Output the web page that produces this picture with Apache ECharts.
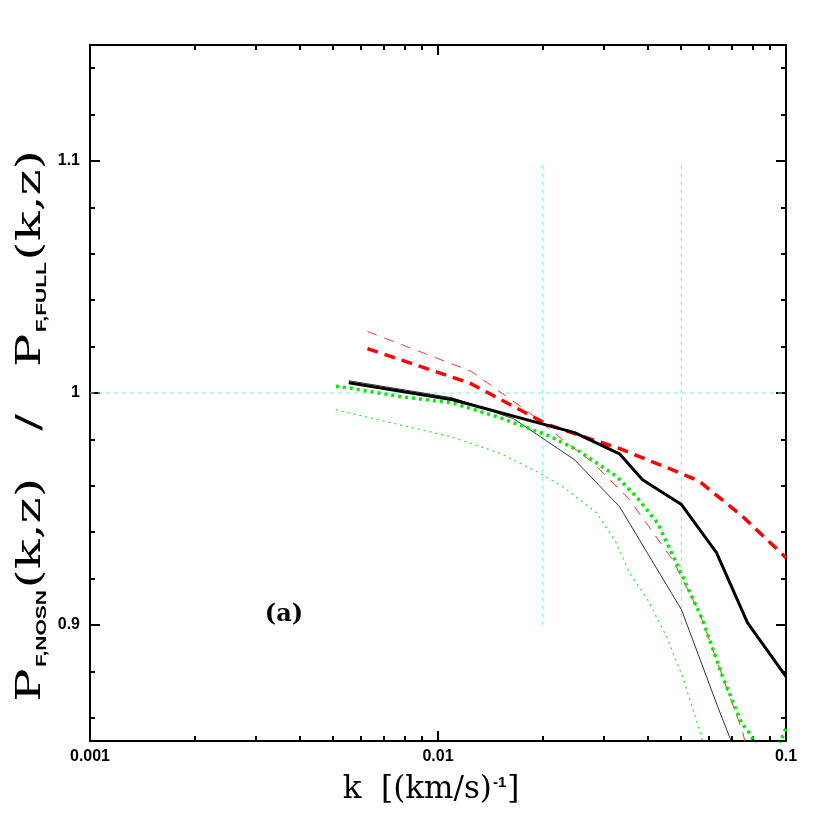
<!DOCTYPE html>
<html><head><meta charset="utf-8">
<script src="https://cdn.jsdelivr.net/npm/echarts@6/dist/echarts.min.js"></script>
<style>html,body{margin:0;padding:0;background:#fff}#c{width:830px;height:830px}</style>
</head><body><div id="c"></div>
<script>
// ---- data ----
const thickBlackK = [0.00554, 0.01102, 0.02469, 0.03324, 0.0387, 0.05008, 0.06313, 0.07748, 0.1];
const thickBlackV = [1.0044, 0.9971, 0.9829, 0.9738, 0.9626, 0.9519, 0.9312, 0.9010, 0.8777];

const thinBlackK = [0.00554, 0.01102, 0.0165, 0.02469, 0.03324, 0.05008, 0.06365, 0.0775];
const thinBlackV = [1.0053, 0.9979, 0.9889, 0.9712, 0.9510, 0.9066, 0.8648, 0.832];

const thickRedK = [0.00627, 0.01233, 0.0207, 0.0333, 0.0501, 0.0564, 0.0750, 0.1];
const thickRedV = [1.0191, 1.0043, 0.9863, 0.9760, 0.9653, 0.9619, 0.9468, 0.9290];

const thinRedK = [0.00627, 0.01247, 0.01834, 0.02281, 0.02763, 0.03552, 0.0472, 0.0564, 0.0750, 0.085];
const thinRedV = [1.0265, 1.0093, 0.9914, 0.9799, 0.9705, 0.9540, 0.9281, 0.9053, 0.8541, 0.82];

const thickGreenK = [0.00509, 0.00554, 0.00776, 0.01102, 0.01504, 0.02078, 0.02501, 0.03258, 0.0372, 0.04274, 0.04718, 0.05042, 0.05754, 0.06568, 0.07447, 0.07852, 0.0895, 0.1];
const thickGreenV = [1.0029, 1.0022, 0.9985, 0.9957, 0.9894, 0.9816, 0.9756, 0.9641, 0.9552, 0.944, 0.9303, 0.921, 0.9023, 0.8778, 0.8578, 0.8534, 0.838, 0.8556];

const thinGreenK = [0.00509, 0.00776, 0.0108, 0.01504, 0.01959, 0.02281, 0.02856, 0.03258, 0.03552, 0.04, 0.04535, 0.05042, 0.05715, 0.064];
const thinGreenV = [0.9928, 0.9863, 0.9813, 0.9741, 0.9655, 0.9597, 0.9483, 0.9353, 0.9224, 0.911, 0.8951, 0.8778, 0.8519, 0.82];

// reference (guide) lines
const refHK = [0.001, 0.1];
const refHV = [1.0, 1.0];
const refV1K = [0.02, 0.02];
const refV2K = [0.05, 0.05];
const refVV = [0.9, 1.1];

const xMajorTicks = [0.001, 0.01, 0.1];
const xTickLabels = ['0.001', '0.01', '0.1'];
const xMinorTicks = [0.002,0.003,0.004,0.005,0.006,0.007,0.008,0.009,0.02,0.03,0.04,0.05,0.06,0.07,0.08,0.09];
const yMajorTicks = [0.9, 1.0, 1.1];
const yTickLabels = ['0.9', '1', '1.1'];
const yMinorTicks = [0.86,0.88,0.92,0.94,0.96,0.98,1.02,1.04,1.06,1.08,1.12,1.14];

const xMin = 0.001, xMax = 0.1, yMin = 0.85, yMax = 1.15;

// ---- chart ----
const zip = (a, b) => a.map((v, i) => [v, b[i]]);
const chart = echarts.init(document.getElementById('c'), null, {renderer: 'canvas'});

const labelFont = {fontFamily: 'Liberation Sans', fontWeight: 'bold', fontSize: 16, color: '#000'};

function xAxis(pos, ticks, len, showLine, labels) {
  return {
    type: 'log', logBase: 10, min: xMin, max: xMax, position: pos,
    splitLine: {show: false}, minorTick: {show: false},
    axisLine: {show: showLine, onZero: false, lineStyle: {color: '#000', width: 2}},
    axisTick: {show: true, inside: true, length: len, customValues: ticks, lineStyle: {color: '#000', width: 2}},
    axisLabel: labels ? Object.assign({show: true, margin: 8, customValues: xMajorTicks,
      formatter: v => xTickLabels[xMajorTicks.findIndex(t => Math.abs(Math.log10(t) - Math.log10(v)) < 1e-6)]}, labelFont)
      : {show: false}
  };
}
function yAxis(pos, ticks, len, showLine, labels) {
  return {
    type: 'value', min: yMin, max: yMax, position: pos,
    splitLine: {show: false}, minorTick: {show: false},
    axisLine: {show: showLine, onZero: false, lineStyle: {color: '#000', width: 2}},
    axisTick: {show: true, inside: true, length: len, customValues: ticks, lineStyle: {color: '#000', width: 2}},
    axisLabel: labels ? Object.assign({show: true, margin: 10, customValues: yMajorTicks,
      formatter: v => yTickLabels[yMajorTicks.findIndex(t => Math.abs(t - v) < 1e-6)]}, labelFont)
      : {show: false}
  };
}

function lineSeries(name, k, v, color, width, dash, z) {
  return {
    name, type: 'line', data: zip(k, v), xAxisIndex: 0, yAxisIndex: 0,
    showSymbol: false, symbol: 'none', smooth: false, clip: true, z,
    lineStyle: {color, width, type: dash, cap: 'butt', join: 'round'},
    emphasis: {disabled: true}, silent: true
  };
}

const refColor = '#66f2f2';

const option = {
  animation: false,
  backgroundColor: '#fff',
  grid: {left: 90, right: 44, top: 45, bottom: 89, containLabel: false},
  xAxis: [
    xAxis('bottom', xMajorTicks, 10, true, true),
    xAxis('bottom', xMinorTicks, 5, false, false),
    xAxis('top', xMajorTicks, 10, true, false),
    xAxis('top', xMinorTicks, 5, false, false)
  ],
  yAxis: [
    yAxis('left', yMajorTicks, 10, true, true),
    yAxis('left', yMinorTicks, 5, false, false),
    yAxis('right', yMajorTicks, 10, true, false),
    yAxis('right', yMinorTicks, 5, false, false)
  ],
  series: [
    lineSeries('refH', refHK, refHV, refColor, 1, [4, 4], 1),
    lineSeries('refV1', refV1K, refVV, refColor, 1, [4, 4], 1),
    lineSeries('refV2', refV2K, refVV, refColor, 1, [4, 4], 1),
    lineSeries('thinGreen', thinGreenK, thinGreenV, '#22ee22', 1.2, [2, 4], 3),
    lineSeries('thinBlack', thinBlackK, thinBlackV, '#333333', 1, 'solid', 4),
    lineSeries('thinRed', thinRedK, thinRedV, '#ff3333', 1, [10, 8], 5),
    lineSeries('thickGreen', thickGreenK, thickGreenV, '#00ee00', 3.5, [3, 4], 6),
    lineSeries('thickRed', thickRedK, thickRedV, '#ff0000', 3.5, [11, 7], 7),
    lineSeries('thickBlack', thickBlackK, thickBlackV, '#000000', 3, 'solid', 8)
  ],
  graphic: [
    {
      type: 'text', x: 431, y: 790, z: 100,
      style: {
        text: '{m|k  [(km/s)}{s|-1}{m|]}',
        align: 'center', verticalAlign: 'middle',
        rich: {
          m: {fontFamily: 'DejaVu Serif', fontSize: 31, color: '#000', lineHeight: 40, verticalAlign: 'middle'},
          s: {fontFamily: 'Liberation Sans', fontWeight: 'bold', fontSize: 15, color: '#000', lineHeight: 40, verticalAlign: 'top', padding: [5, 1, 0, 1]}
        }
      }
    },
    {
      type: 'text', x: 31, y: 426, rotation: Math.PI / 2, scaleX: 1.5, scaleY: 1, z: 100,
      style: {
        text: '{m|P}{s|F,NOSN}{m|(k,z)   /   P}{s|F,FULL}{m|(k,z)}',
        align: 'center', verticalAlign: 'middle',
        rich: {
          m: {fontFamily: 'DejaVu Serif', fontSize: 33, color: '#000', lineHeight: 42, verticalAlign: 'middle'},
          s: {fontFamily: 'Liberation Sans', fontWeight: 'bold', fontSize: 14, color: '#000', lineHeight: 42, verticalAlign: 'bottom', padding: [0, 1, 3, 1]}
        }
      }
    },
    {
      type: 'text', x: 284, y: 615, z: 100,
      style: {text: '(a)', fontFamily: 'DejaVu Serif', fontWeight: 'bold', fontSize: 24, fill: '#000', align: 'center', verticalAlign: 'middle'}
    }
  ]
};
chart.setOption(option);
</script>
</body></html>
